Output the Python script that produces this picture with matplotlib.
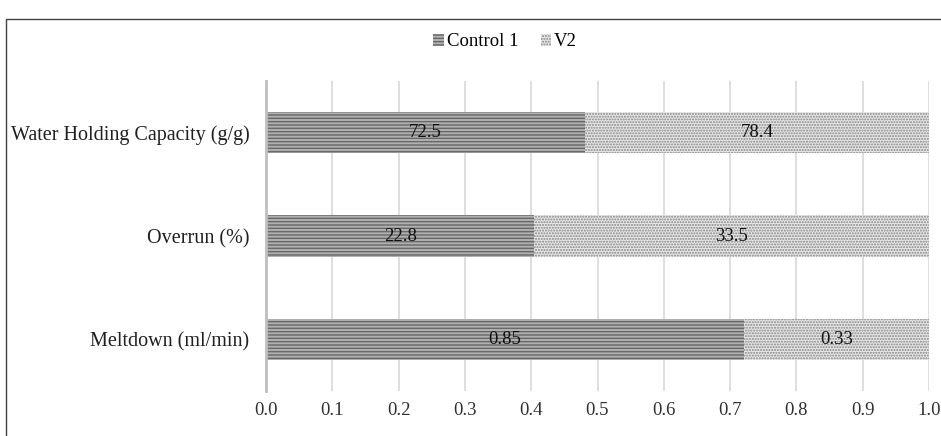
import matplotlib
matplotlib.use("Agg")
import matplotlib.pyplot as plt
from matplotlib.patches import Rectangle
import numpy as np

plt.rcParams['font.family'] = ['Liberation Serif', 'DejaVu Serif']
plt.rcParams['hatch.linewidth'] = 1.0

categories = ["Meltdown (ml/min)", "Overrun (%)", "Water Holding Capacity (g/g)"]
control1 = [0.85, 22.8, 72.5]
v2 = [0.33, 33.5, 78.4]
series_names = ["Control 1", "V2"]
x_ticks = [0.0, 0.1, 0.2, 0.3, 0.4, 0.5, 0.6, 0.7, 0.8, 0.9, 1.0]

c1 = np.array(control1)
c2 = np.array(v2)
total = c1 + c2
f1 = c1 / total
f2 = c2 / total

fs = 13.5

fig = plt.figure(figsize=(9.41, 4.36), dpi=100)
ax = fig.add_axes([266 / 941, 1 - 391 / 436, 663 / 941, 310 / 436])

y = np.arange(len(categories))
bh = 0.4

b1 = ax.barh(y, f1, height=bh, color='#b0b0b0', edgecolor='#686868',
             hatch='-----', linewidth=0, label=series_names[0], zorder=3)
b2 = ax.barh(y, f2, left=f1, height=bh, color='#e8e8e8', edgecolor='#848484',
             hatch='......', linewidth=0, label=series_names[1], zorder=3)

for i in range(len(categories)):
    ax.text(f1[i] / 2, y[i], f"{control1[i]:g}", ha='center', va='center',
            fontsize=fs, color='#111111', zorder=5)
    ax.text(f1[i] + f2[i] / 2, y[i], f"{v2[i]:g}", ha='center', va='center',
            fontsize=fs, color='#111111', zorder=5)

ax.set_xlim(0, 1.0)
ax.set_ylim(-0.5, len(categories) - 0.5)
ax.set_xticks(x_ticks)
ax.set_xticklabels([f"{t:.1f}" for t in x_ticks], fontsize=fs, color='#303030')
ax.set_yticks(y)
ax.set_yticklabels(categories, fontsize=14.5, color='#202020')
ax.tick_params(axis='both', length=0)
ax.tick_params(axis='y', pad=12)
ax.tick_params(axis='x', pad=8)

for s in ['top', 'right', 'bottom']:
    ax.spines[s].set_visible(False)
ax.spines['left'].set_color('#bfbfbf')
ax.spines['left'].set_linewidth(2)
ax.spines['left'].set_zorder(4)

ax.grid(axis='x', color='#d9d9d9', linewidth=1.2, zorder=0)
ax.set_axisbelow(True)

leg = fig.legend(handles=[b1, b2], labels=series_names, loc='center',
                 bbox_to_anchor=(505 / 941, 1 - 42 / 436), ncol=2, frameon=False,
                 fontsize=fs, handlelength=0.55, handleheight=0.55,
                 handletextpad=0.15, columnspacing=1.2)

# outer chart border (only left and top visible in the crop)
fig.patches.append(Rectangle((6 / 941, -0.1), 1.1, 1 - 19 / 436 + 0.1,
                             transform=fig.transFigure, fill=False,
                             edgecolor='#404040', linewidth=1.0))

fig.savefig("out.png", dpi=100)
